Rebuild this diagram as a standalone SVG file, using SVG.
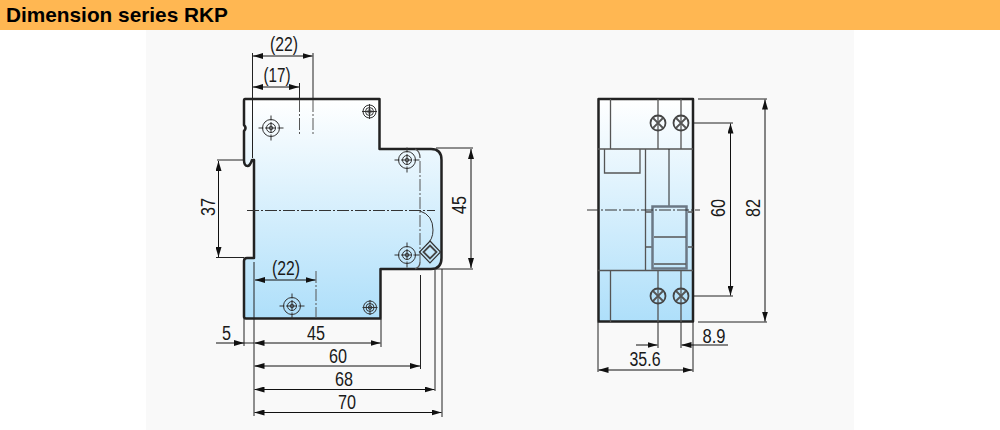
<svg xmlns="http://www.w3.org/2000/svg" width="1000" height="430" viewBox="0 0 1000 430">
<style>
.t{font-family:"Liberation Sans",Arial,sans-serif;font-size:20px;fill:#1a1a1a;text-anchor:middle}
.h{font-family:"Liberation Sans",Arial,sans-serif;font-size:20.800px;font-weight:bold;fill:#000}
.o{fill:none;stroke:#222;stroke-width:2.5;stroke-linejoin:round}
.d{fill:none;stroke:#222;stroke-width:1}
.g{fill:none;stroke:#555;stroke-width:1.3}
.c{fill:none;stroke:#333;stroke-width:1;stroke-dasharray:12 2 2 2}
.k{fill:none;stroke:#555;stroke-width:1;stroke-dasharray:12 2 2 2}
.a{fill:none;stroke:#111;stroke-width:1;marker-start:url(#ar);marker-end:url(#ar)}
.e{fill:none;stroke:#111;stroke-width:1;marker-end:url(#ar)}
.s{fill:none;stroke:#333;stroke-width:1}
</style>
<defs>
<linearGradient id="bl" x1="0" y1="0" x2="0" y2="1"><stop offset="0" stop-color="#ffffff"/><stop offset="1" stop-color="#aedffa"/></linearGradient>
<marker id="ar" viewBox="0 0 10 6" refX="10" refY="3" markerWidth="10" markerHeight="6" markerUnits="userSpaceOnUse" orient="auto-start-reverse"><path d="M0 0L10 3L0 6Z" fill="#111"/></marker>
<g id="sc">
<circle r="8.5" class="s"/><circle r="4.5" class="s"/><circle r="1.8" class="s"/>
<path d="M-12.5 0H12.5M0-12.5V12.5" class="s" stroke-dasharray="5 1.5 6 0"/>
</g>
<g id="ss">
<circle r="6.5" class="s"/><circle r="4" class="s"/><circle r="1.8" class="s"/>
<path d="M-7.5 0H7.5M0-7.5V7.5" class="s"/>
</g>
<g id="tm">
<circle r="7.5" fill="none" stroke="#444" stroke-width="1.800"/>
<path d="M-5-5L5 5M-5 5L5-5" fill="none" stroke="#555" stroke-width="1.800"/>
</g>
</defs>
<rect width="1000" height="430" fill="#fff"/>
<rect x="146" y="30" width="708" height="400" fill="#f9f9f9"/>
<g id="header"><rect width="1000" height="30" fill="#ffb752"/><text class="h" x="6" y="22">Dimension series RKP</text></g>
<g id="front-view">
<path class="o" style="fill:url(#bl)" d="M245 99H379.500V149H431Q441.500 149 441.500 160V258Q441.500 269 431 269H380.500V318.500H246Q244 318.500 244 316.500V261Q244 258 247 258H254V160H252Q250 166 247.500 166Q244 166 244 160V131Q247 128 244 125V101Q244 99 245 99Z"/>
<path class="g" d="M415 149Q420 151 420 158"/>
<path class="g" d="M420 262Q420 267 415 269"/>
<path class="k" d="M420 161V262"/>
<path class="s" d="M420 211Q433 215 433 230Q433 240 426 245"/>
<path class="c" d="M247 210.500H435"/>
<use href="#sc" x="271" y="128"/><use href="#ss" x="369.500" y="111.500"/><use href="#sc" x="407" y="160"/><use href="#sc" x="407" y="255"/><use href="#ss" x="370" y="307.500"/><use href="#sc" x="292" y="306"/>
<path d="M430 241L440.500 252L430 263L419.500 252Z" fill="none" stroke="#333" stroke-width="1.200"/>
<path d="M430 245.500L436.500 252L430 258.500L423.500 252Z" fill="none" stroke="#444" stroke-width="1.800"/>
</g>
<g id="side-view">
<rect class="o" x="598.500" y="99" width="94.500" height="222.500" style="fill:url(#bl)"/>
<path class="g" d="M610.500 99V149M598 149H693M604.500 149V173H640V149M645.500 149V270.500M598 270.500H693M610.500 270.500V322M658 99V149M681 99V149M658 270.500V322M681 270.500V322M645 212H652M688 212H693M645 247H652M688 247H693"/>
<path d="M669 149V206" class="d"/>
<rect x="652.500" y="206.500" width="34" height="62" fill="none" stroke="#6b7885" stroke-width="2.500"/>
<path class="g" d="M654 237H686M654 264H686"/>
<path class="c" d="M587 210H700"/>
<use href="#tm" x="658" y="123"/><use href="#tm" x="681" y="123"/><use href="#tm" x="658" y="296"/><use href="#tm" x="681" y="296"/>
</g>
<g id="connectors">
<path class="d" d="M252.500 53V158M313 53V99M299.500 83V99M217 160H244M216 257.500H244M436 148H473M436 269H473"/>
<path class="k" d="M299.500 100V135M313 100V135M316 271V318"/>
<path class="a" d="M253 56H312.500"/><path class="a" d="M253 87H299"/>
<path class="a" d="M218.500 161V257"/><path class="a" d="M471 149V268"/>
<path class="a" d="M255 280H315.500"/>
<path class="d" d="M254 262V416M244 319V346M381 319V347M420.500 275V369M435 269V391M442 269V417"/>
<path class="e" d="M216 343H244"/><path class="d" d="M244 343H254"/>
<path class="a" d="M254.500 343H380.500"/><path class="a" d="M254.500 366H420"/><path class="a" d="M254.500 389.500H434.500"/><path class="a" d="M254.500 412.500H441.500"/>
<path class="d" d="M693 123H733M693 296H733M698 99H767M698 322H767M598 322V372M693 322V372M658 322V348M681 322V348"/>
<path class="a" d="M730.500 123.500V295.500"/><path class="a" d="M765 99.500V321.500"/>
<path class="a" d="M598.500 370H692.500"/>
<path class="e" d="M636 345H657.500"/><path class="e" d="M728 345H681.500"/>
</g>
<g id="labels">
<text class="t" x="284" y="50.500" textLength="28" lengthAdjust="spacingAndGlyphs">(22)</text>
<text class="t" x="277" y="81.500" textLength="27" lengthAdjust="spacingAndGlyphs">(17)</text>
<text class="t" x="286" y="275" textLength="28" lengthAdjust="spacingAndGlyphs">(22)</text>
<text class="t" transform="translate(214.500 207) rotate(-90)" textLength="18" lengthAdjust="spacingAndGlyphs">37</text>
<text class="t" transform="translate(466 205) rotate(-90)" textLength="18" lengthAdjust="spacingAndGlyphs">45</text>
<text class="t" x="226.500" y="340" textLength="9" lengthAdjust="spacingAndGlyphs">5</text>
<text class="t" x="316" y="340" textLength="18" lengthAdjust="spacingAndGlyphs">45</text>
<text class="t" x="338" y="362.500" textLength="18" lengthAdjust="spacingAndGlyphs">60</text>
<text class="t" x="344" y="385.500" textLength="18" lengthAdjust="spacingAndGlyphs">68</text>
<text class="t" x="347" y="409" textLength="18" lengthAdjust="spacingAndGlyphs">70</text>
<text class="t" transform="translate(725 208) rotate(-90)" textLength="18" lengthAdjust="spacingAndGlyphs">60</text>
<text class="t" transform="translate(760 208) rotate(-90)" textLength="18" lengthAdjust="spacingAndGlyphs">82</text>
<text class="t" x="645" y="366" textLength="31" lengthAdjust="spacingAndGlyphs">35.6</text>
<text class="t" x="714" y="342.500" textLength="23" lengthAdjust="spacingAndGlyphs">8.9</text>
</g>
</svg>
